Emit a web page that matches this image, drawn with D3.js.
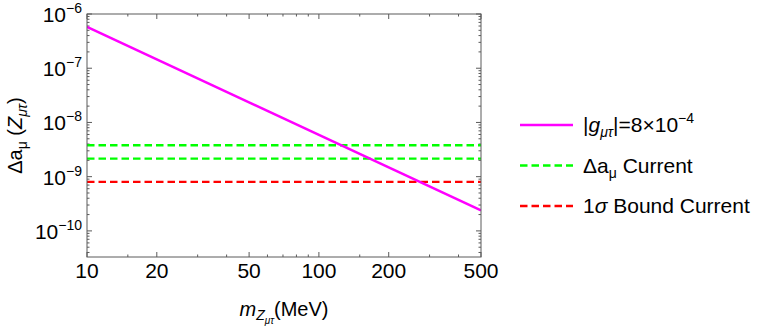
<!DOCTYPE html>
<html>
<head>
<meta charset="utf-8">
<script src="https://cdn.jsdelivr.net/npm/d3@7"></script>
<style>
  body { margin: 0; background: #fff; }
  text { font-family: "Liberation Sans", Arial, sans-serif; fill: #000; }
</style>
</head>
<body>
<div id="grafico"></div>
<script>
// curve |g| = 8e-4 (straight in log-log)
const massa = [10, 500];
const deltaA = [5.8e-7, 2.4e-10];
// horizontal bands
const correnteDeltaA = [3.8e-9, 2.15e-9];
const limite1Sigma = [8.0e-10];
const ticksX = [10, 20, 50, 100, 200, 500];
const ticksXMenores = [15, 30, 40, 60, 70, 80, 90, 150, 300, 400];
const expoentesY = [-6, -7, -8, -9, -10];
const legendas = ['g', 'cur', 'sig'];

const largura = 761, altura = 327;
const margem = { topo: 14, direita: 280, baixo: 70, esquerda: 87 };
const w = largura - margem.esquerda - margem.direita;
const h = altura - margem.topo - margem.baixo;
const fonte = 20, fonteTick = 21, fonteSub = 14;

const svg = d3.select('#grafico').append('svg')
  .attr('width', largura).attr('height', altura);
const g = svg.append('g').attr('transform', `translate(${margem.esquerda},${margem.topo})`);

const escalaX = d3.scaleLog().domain([10, 500]).range([0, w]);
const escalaY = d3.scaleLog().domain([3.3e-11, 1e-6]).range([h, 0]);

// minor y ticks
const menoresY = [];
for (let e = -11; e < -6; e++) for (let k = 2; k <= 9; k++) {
  const v = k * Math.pow(10, e);
  if (v >= 3.3e-11 && v <= 1e-6) menoresY.push(v);
}
const corFrame = '#5a5a5a';
const ticks = g.append('g').attr('stroke', corFrame).attr('stroke-width', 1);
expoentesY.forEach(e => {
  const y = escalaY(Math.pow(10, e));
  ticks.append('line').attr('x1', 0).attr('x2', 5).attr('y1', y).attr('y2', y);
  ticks.append('line').attr('x1', w).attr('x2', w - 5).attr('y1', y).attr('y2', y);
});
menoresY.forEach(v => {
  const y = escalaY(v);
  ticks.append('line').attr('x1', 0).attr('x2', 2.5).attr('y1', y).attr('y2', y);
  ticks.append('line').attr('x1', w).attr('x2', w - 2.5).attr('y1', y).attr('y2', y);
});
ticksX.forEach(v => {
  const x = escalaX(v);
  ticks.append('line').attr('x1', x).attr('x2', x).attr('y1', h).attr('y2', h - 5);
  ticks.append('line').attr('x1', x).attr('x2', x).attr('y1', 0).attr('y2', 5);
});
ticksXMenores.forEach(v => {
  const x = escalaX(v);
  ticks.append('line').attr('x1', x).attr('x2', x).attr('y1', h).attr('y2', h - 2.5);
  ticks.append('line').attr('x1', x).attr('x2', x).attr('y1', 0).attr('y2', 2.5);
});

// x tick labels
g.selectAll('.rotX').data(ticksX).enter().append('text')
  .attr('x', d => escalaX(d)).attr('y', h + 21)
  .attr('text-anchor', 'middle').style('font-size', fonteTick + 'px').text(d => d);

// y tick labels
expoentesY.forEach(e => {
  const t = g.append('text').attr('x', -5).attr('y', escalaY(Math.pow(10, e)) + 8)
    .attr('text-anchor', 'end').style('font-size', fonteTick + 'px');
  t.append('tspan').text('10');
  t.append('tspan').attr('dy', -9).style('font-size', fonteSub + 'px').text('\u2212' + (-e));
});

// curves
const linha = d3.line().x(d => escalaX(d[0])).y(d => escalaY(d[1]));
g.append('defs').append('clipPath').attr('id', 'clip')
  .append('rect').attr('width', w).attr('height', h);
const area = g.append('g').attr('clip-path', 'url(#clip)');

correnteDeltaA.forEach(v => {
  area.append('line').attr('x1', 0).attr('x2', w).attr('y1', escalaY(v)).attr('y2', escalaY(v))
    .attr('stroke', '#00ff00').attr('stroke-width', 2.4).attr('stroke-dasharray', '7.5,4');
});
limite1Sigma.forEach(v => {
  area.append('line').attr('x1', 0).attr('x2', w).attr('y1', escalaY(v)).attr('y2', escalaY(v))
    .attr('stroke', '#ff0000').attr('stroke-width', 2.4).attr('stroke-dasharray', '7.5,4');
});
area.append('path').datum(massa.map((m, i) => [m, deltaA[i]]))
  .attr('d', linha).attr('fill', 'none').attr('stroke', '#ff00ff').attr('stroke-width', 2.5);

// frame
g.append('rect').attr('width', w).attr('height', h)
  .attr('fill', 'none').attr('stroke', corFrame).attr('stroke-width', 1);

// axis titles
const tituloY = svg.append('text')
  .attr('transform', `translate(22,${margem.topo + h / 2}) rotate(-90)`)
  .attr('text-anchor', 'middle').style('font-size', fonte + 'px');
tituloY.append('tspan').text('\u0394a');
tituloY.append('tspan').attr('dy', 5).style('font-size', fonteSub + 'px').text('\u03bc');
tituloY.append('tspan').attr('dy', -5).text(' (');
tituloY.append('tspan').style('font-style', 'italic').text('Z');
tituloY.append('tspan').attr('dy', 5).style('font-size', fonteSub + 'px').style('font-style', 'italic').text('\u03bc\u03c4');
tituloY.append('tspan').attr('dy', -5).text(')');

const tituloX = svg.append('text')
  .attr('x', margem.esquerda + w / 2).attr('y', 316)
  .attr('text-anchor', 'middle').style('font-size', fonte + 'px');
tituloX.append('tspan').style('font-style', 'italic').text('m');
tituloX.append('tspan').attr('dy', 4).style('font-size', fonteSub + 'px').style('font-style', 'italic').text('Z');
tituloX.append('tspan').attr('dy', 4).style('font-size', '10px').style('font-style', 'italic').text('\u03bc\u03c4');
tituloX.append('tspan').attr('dy', -8).text('(MeV)');

// legend
const leg = svg.append('g').attr('transform', 'translate(520,125)');
const estilos = {
  g: { cor: '#ff00ff', dash: null },
  cur: { cor: '#00ff00', dash: '7.5,4' },
  sig: { cor: '#ff0000', dash: '7.5,4' }
};
legendas.forEach((k, i) => {
  const y = i * 40.5;
  leg.append('line').attr('x1', 0).attr('x2', 53).attr('y1', y).attr('y2', y)
    .attr('stroke', estilos[k].cor).attr('stroke-width', 2.4)
    .attr('stroke-dasharray', estilos[k].dash);
  const t = leg.append('text').attr('x', 63).attr('y', y + 7).style('font-size', '21px');
  if (k === 'g') {
    t.append('tspan').text('|');
    t.append('tspan').style('font-style', 'italic').text('g');
    t.append('tspan').attr('dy', 5).style('font-size', fonteSub + 'px').style('font-style', 'italic').text('\u03bc\u03c4');
    t.append('tspan').attr('dy', -5).text('|=8\u00d710');
    t.append('tspan').attr('dy', -9).style('font-size', fonteSub + 'px').text('\u22124');
  } else if (k === 'cur') {
    t.append('tspan').text('\u0394a');
    t.append('tspan').attr('dy', 5).style('font-size', fonteSub + 'px').text('\u03bc');
    t.append('tspan').attr('dy', -5).text(' Current');
  } else {
    t.append('tspan').text('1');
    t.append('tspan').style('font-style', 'italic').text('\u03c3');
    t.append('tspan').text(' Bound Current');
  }
});
</script>
</body>
</html>
